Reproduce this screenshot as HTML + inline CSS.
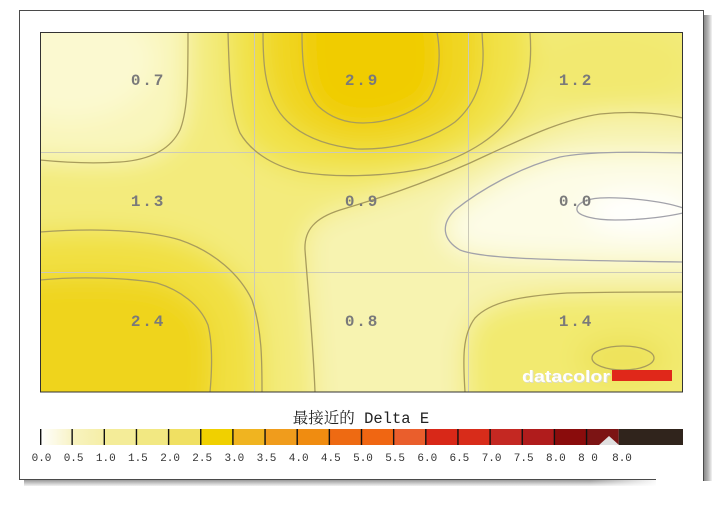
<!DOCTYPE html>
<html><head><meta charset="utf-8"><style>
html,body{margin:0;padding:0;background:#fff;overflow:hidden;}
body{width:720px;height:505px;}
svg{display:block;position:absolute;left:0;top:0;}
</style></head><body>
<svg width="720" height="505" viewBox="0 0 720 505" xmlns="http://www.w3.org/2000/svg">
<defs>
<filter id="bl" x="0" y="0" width="720" height="505" filterUnits="userSpaceOnUse"><feGaussianBlur stdDeviation="13"/></filter>
<clipPath id="pc"><rect x="40" y="32" width="643" height="360"/></clipPath>
<linearGradient id="g0" x1="0" x2="1" y1="0" y2="0"><stop offset="0" stop-color="#ffffff"/><stop offset="1" stop-color="#f8f3c6"/></linearGradient>
<linearGradient id="g1" x1="0" x2="1" y1="0" y2="0"><stop offset="0" stop-color="#f8f3c0"/><stop offset="1" stop-color="#f5eea6"/></linearGradient>
<linearGradient id="rs" x1="0" x2="1" y1="0" y2="0"><stop offset="0" stop-color="#8a8a8a"/><stop offset="0.5" stop-color="#b4b4b4"/><stop offset="1" stop-color="#f4f4f4"/></linearGradient>
<linearGradient id="bs" x1="0" x2="0" y1="0" y2="1"><stop offset="0" stop-color="#9a9a9a"/><stop offset="1" stop-color="#f2f2f2"/></linearGradient>
<linearGradient id="bsf" x1="0" x2="1" y1="0" y2="0"><stop offset="0" stop-color="#fff" stop-opacity="0"/><stop offset="1" stop-color="#fff" stop-opacity="1"/></linearGradient>
</defs>

<!-- frame -->
<rect x="19" y="10" width="685" height="470" fill="#fff"/>
<rect x="704" y="15" width="8" height="466" fill="url(#rs)"/>
<rect x="24" y="480" width="632" height="6" fill="url(#bs)"/>
<rect x="590" y="479" width="70" height="8" fill="url(#bsf)"/>
<g stroke="#4a4a4a" stroke-width="1" fill="none">
 <line x1="19" y1="10.5" x2="704" y2="10.5"/>
 <line x1="19.5" y1="10" x2="19.5" y2="480"/>
 <line x1="703.5" y1="10" x2="703.5" y2="481"/>
 <line x1="19" y1="479.5" x2="656" y2="479.5"/>
</g>

<!-- heatmap -->
<g clip-path="url(#pc)">
 <g filter="url(#bl)">
  <rect x="0" y="0" width="720" height="505" fill="#f3eb7c"/>
  <path d="M 0 0 L 188 0 L 188 32 C 188 80,188 110,180 130 C 170 150,150 160,120 162 C 90 164,60 162,40 160 L 0 160 Z" fill="#f9f6bc"/>
  <ellipse cx="70" cy="60" rx="85" ry="60" fill="#fbf9d0"/>
  <ellipse cx="610" cy="65" rx="80" ry="40" fill="#f2e970"/>
  <path d="M 315 505 L 315 392 C 313 340,308 290,305 250 C 304 230,315 218,340 210 C 380 198,420 185,470 163 C 520 140,560 120,600 114 C 640 110,670 115,720 118 L 720 505 Z" fill="#f7f3b0"/>
  <path d="M 465 505 L 465 392 C 463 360,462 335,475 318 C 490 302,520 296,567 293 C 600 292,650 292,720 292 L 720 505 Z" fill="#f2ea70"/>
  <ellipse cx="623" cy="358" rx="45" ry="22" fill="#ede25a"/>
  <path d="M 720 153 L 683 153 C 640 152,590 151,560 157 C 520 167,480 190,455 210 C 440 225,443 240,460 250 C 480 258,530 260,683 262 L 720 262 Z" fill="#fdfce6"/>
  <ellipse cx="640" cy="212" rx="55" ry="20" fill="#ffffff"/>
  <path d="M 228 0 L 228 32 C 229 70,230 110,240 133 C 250 150,270 165,300 172 C 330 177,380 178,427 168 C 470 155,500 135,515 110 C 530 85,532 60,530 32 L 530 0 Z" fill="#f1e24a"/>
  <path d="M 263 0 L 263 32 C 263 60,264 90,280 113 C 295 133,320 145,357 149 C 395 150,430 140,455 122 C 475 105,484 80,483 50 L 482 0 Z" fill="#f0d624"/>
  <path d="M 302 0 L 302 33 C 302 63,304 90,318 106 C 333 120,350 123,363 123 C 385 123,410 115,428 100 C 438 85,442 60,437 32 L 437 0 Z" fill="#f0cc04"/>
  <path d="M 0 232 L 40 232 C 80 229,140 228,180 240 C 215 252,240 275,252 300 C 262 330,262 360,262 392 L 262 505 L 0 505 Z" fill="#f1e042"/>
  <path d="M 0 280 L 40 280 C 80 276,130 278,157 283 C 180 290,200 305,208 325 C 213 345,212 370,210 392 L 210 505 L 0 505 Z" fill="#efd41a"/>
 </g>
 <!-- grid -->
 <g stroke="#cbc9b8" stroke-width="1">
  <line x1="254.5" y1="32" x2="254.5" y2="392"/>
  <line x1="468.5" y1="32" x2="468.5" y2="392"/>
  <line x1="40" y1="152.5" x2="683" y2="152.5"/>
  <line x1="40" y1="272.5" x2="683" y2="272.5"/>
 </g>
 <!-- contours -->
 <g fill="none" stroke="#a89c5c" stroke-width="1.3">
  <path d="M 188 32 C 188 80,188 110,180 130 C 170 150,150 160,120 162 C 90 164,60 162,40 160"/>
  <path d="M 228 32 C 229 70,230 110,240 133 C 250 150,270 165,300 172 C 330 177,380 178,427 168 C 470 155,500 135,515 110 C 530 85,532 60,530 32"/>
  <path d="M 263 32 C 263 60,264 90,280 113 C 295 133,320 145,357 149 C 395 150,430 140,455 122 C 475 105,484 80,483 50 L 482 32"/>
  <path d="M 302 33 C 302 63,304 90,318 106 C 333 120,350 123,363 123 C 385 123,410 115,428 100 C 438 85,442 60,437 32"/>
  <path d="M 315 392 C 313 340,308 290,305 250 C 304 230,315 218,340 210 C 380 198,420 185,470 163 C 520 140,560 120,600 114 C 640 110,670 115,683 118"/>
  <path d="M 465 392 C 463 360,462 335,475 318 C 490 302,520 296,567 293 C 600 292,650 292,683 292"/>
  <ellipse cx="623" cy="358" rx="31" ry="12"/>
  <path d="M 40 232 C 80 229,140 228,180 240 C 215 252,240 275,252 300 C 262 330,262 360,262 392"/>
  <path d="M 40 280 C 80 276,130 278,157 283 C 180 290,200 305,208 325 C 213 345,212 370,210 392"/>
 </g>
 <g fill="none" stroke="#a2a2aa" stroke-width="1.3">
  <path d="M 683 153 C 640 152,590 151,560 157 C 520 167,480 190,455 210 C 440 225,443 240,460 250 C 480 258,530 260,683 262"/>
  <path d="M 683 208 C 660 200,620 197,600 198 C 585 199,576 204,577 210 C 578 216,595 220,615 220 C 645 220,670 216,683 213"/>
 </g>
 <!-- logo -->
 <text x="523" y="383" font-family="Liberation Sans, sans-serif" font-size="17" font-weight="bold" fill="#dcdcc8" textLength="88" lengthAdjust="spacingAndGlyphs">datacolor</text>
 <text x="522" y="382" font-family="Liberation Sans, sans-serif" font-size="17" font-weight="bold" fill="#ffffff" textLength="88" lengthAdjust="spacingAndGlyphs">datacolor</text>
 <rect x="612" y="370" width="60" height="11" fill="#e0281a"/>
</g>
<rect x="40.5" y="32.5" width="642" height="359.5" fill="none" stroke="#333" stroke-width="1"/>

<!-- cell labels -->
<g font-family="Liberation Mono, monospace" font-size="16" font-weight="bold" fill="#7a7a7a" text-anchor="middle" letter-spacing="1.8">
 <text x="148" y="85">0.7</text>
 <text x="362" y="85">2.9</text>
 <text x="576" y="85">1.2</text>
 <text x="148" y="206">1.3</text>
 <text x="362" y="206">0.9</text>
 <text x="576" y="206">0.0</text>
 <text x="148" y="326">2.4</text>
 <text x="362" y="326">0.8</text>
 <text x="576" y="326">1.4</text>
</g>

<!-- title -->
<text x="361" y="423" text-anchor="middle" font-family="Liberation Mono, Noto Serif CJK SC, Noto Sans CJK SC, monospace" font-size="15.5" fill="#222">最接近的 Delta E</text>

<!-- colorbar -->
<g>
 <rect x="40" y="429" width="32.15" height="16" fill="url(#g0)"/>
 <rect x="72.15" y="429" width="32.15" height="16" fill="url(#g1)"/>
 <rect x="104.3" y="429" width="32.15" height="16" fill="#f4ec98"/>
 <rect x="136.45" y="429" width="32.15" height="16" fill="#f2e882"/>
 <rect x="168.6" y="429" width="32.15" height="16" fill="#f0e062"/>
 <rect x="200.75" y="429" width="32.15" height="16" fill="#f0d000"/>
 <rect x="232.9" y="429" width="32.15" height="16" fill="#f0b420"/>
 <rect x="265.05" y="429" width="32.15" height="16" fill="#f09c1c"/>
 <rect x="297.2" y="429" width="32.15" height="16" fill="#f08c10"/>
 <rect x="329.35" y="429" width="32.15" height="16" fill="#ee6a12"/>
 <rect x="361.5" y="429" width="32.15" height="16" fill="#f06612"/>
 <rect x="393.65" y="429" width="32.15" height="16" fill="#ea5e2c"/>
 <rect x="425.8" y="429" width="32.15" height="16" fill="#d82818"/>
 <rect x="457.95" y="429" width="32.15" height="16" fill="#d82c1a"/>
 <rect x="490.1" y="429" width="32.15" height="16" fill="#c42822"/>
 <rect x="522.25" y="429" width="32.15" height="16" fill="#b01c1c"/>
 <rect x="554.4" y="429" width="32.15" height="16" fill="#8a0c0c"/>
 <rect x="586.55" y="429" width="32.15" height="16" fill="#7c1414"/>
 <rect x="618.7" y="429" width="64.3" height="16" fill="#30241c"/>
 <polygon points="599,445 609,436 619,445" fill="#e0e0e0"/>
 <g stroke="#111" stroke-width="1.4">
  <line x1="40.7" y1="429" x2="40.7" y2="445"/>
  <line x1="72.15" y1="429" x2="72.15" y2="445"/>
  <line x1="104.3" y1="429" x2="104.3" y2="445"/>
  <line x1="136.45" y1="429" x2="136.45" y2="445"/>
  <line x1="168.6" y1="429" x2="168.6" y2="445"/>
  <line x1="200.75" y1="429" x2="200.75" y2="445"/>
  <line x1="232.9" y1="429" x2="232.9" y2="445"/>
  <line x1="265.05" y1="429" x2="265.05" y2="445"/>
  <line x1="297.2" y1="429" x2="297.2" y2="445"/>
  <line x1="329.35" y1="429" x2="329.35" y2="445"/>
  <line x1="361.5" y1="429" x2="361.5" y2="445"/>
  <line x1="393.65" y1="429" x2="393.65" y2="445"/>
  <line x1="425.8" y1="429" x2="425.8" y2="445"/>
  <line x1="457.95" y1="429" x2="457.95" y2="445"/>
  <line x1="490.1" y1="429" x2="490.1" y2="445"/>
  <line x1="522.25" y1="429" x2="522.25" y2="445"/>
  <line x1="554.4" y1="429" x2="554.4" y2="445"/>
  <line x1="586.55" y1="429" x2="586.55" y2="445"/>
 </g>
</g>
<g font-family="Liberation Mono, monospace" font-size="11" fill="#333" text-anchor="middle">
 <text x="41.5" y="461">0.0</text>
 <text x="73.6" y="461">0.5</text>
 <text x="105.8" y="461">1.0</text>
 <text x="137.9" y="461">1.5</text>
 <text x="170.1" y="461">2.0</text>
 <text x="202.2" y="461">2.5</text>
 <text x="234.4" y="461">3.0</text>
 <text x="266.5" y="461">3.5</text>
 <text x="298.7" y="461">4.0</text>
 <text x="330.8" y="461">4.5</text>
 <text x="363" y="461">5.0</text>
 <text x="395.1" y="461">5.5</text>
 <text x="427.3" y="461">6.0</text>
 <text x="459.4" y="461">6.5</text>
 <text x="491.6" y="461">7.0</text>
 <text x="523.7" y="461">7.5</text>
 <text x="555.9" y="461">8.0</text>
 <text x="588" y="461">8 0</text>
 <text x="622" y="461">8.0</text>
</g>
</svg>
</body></html>
